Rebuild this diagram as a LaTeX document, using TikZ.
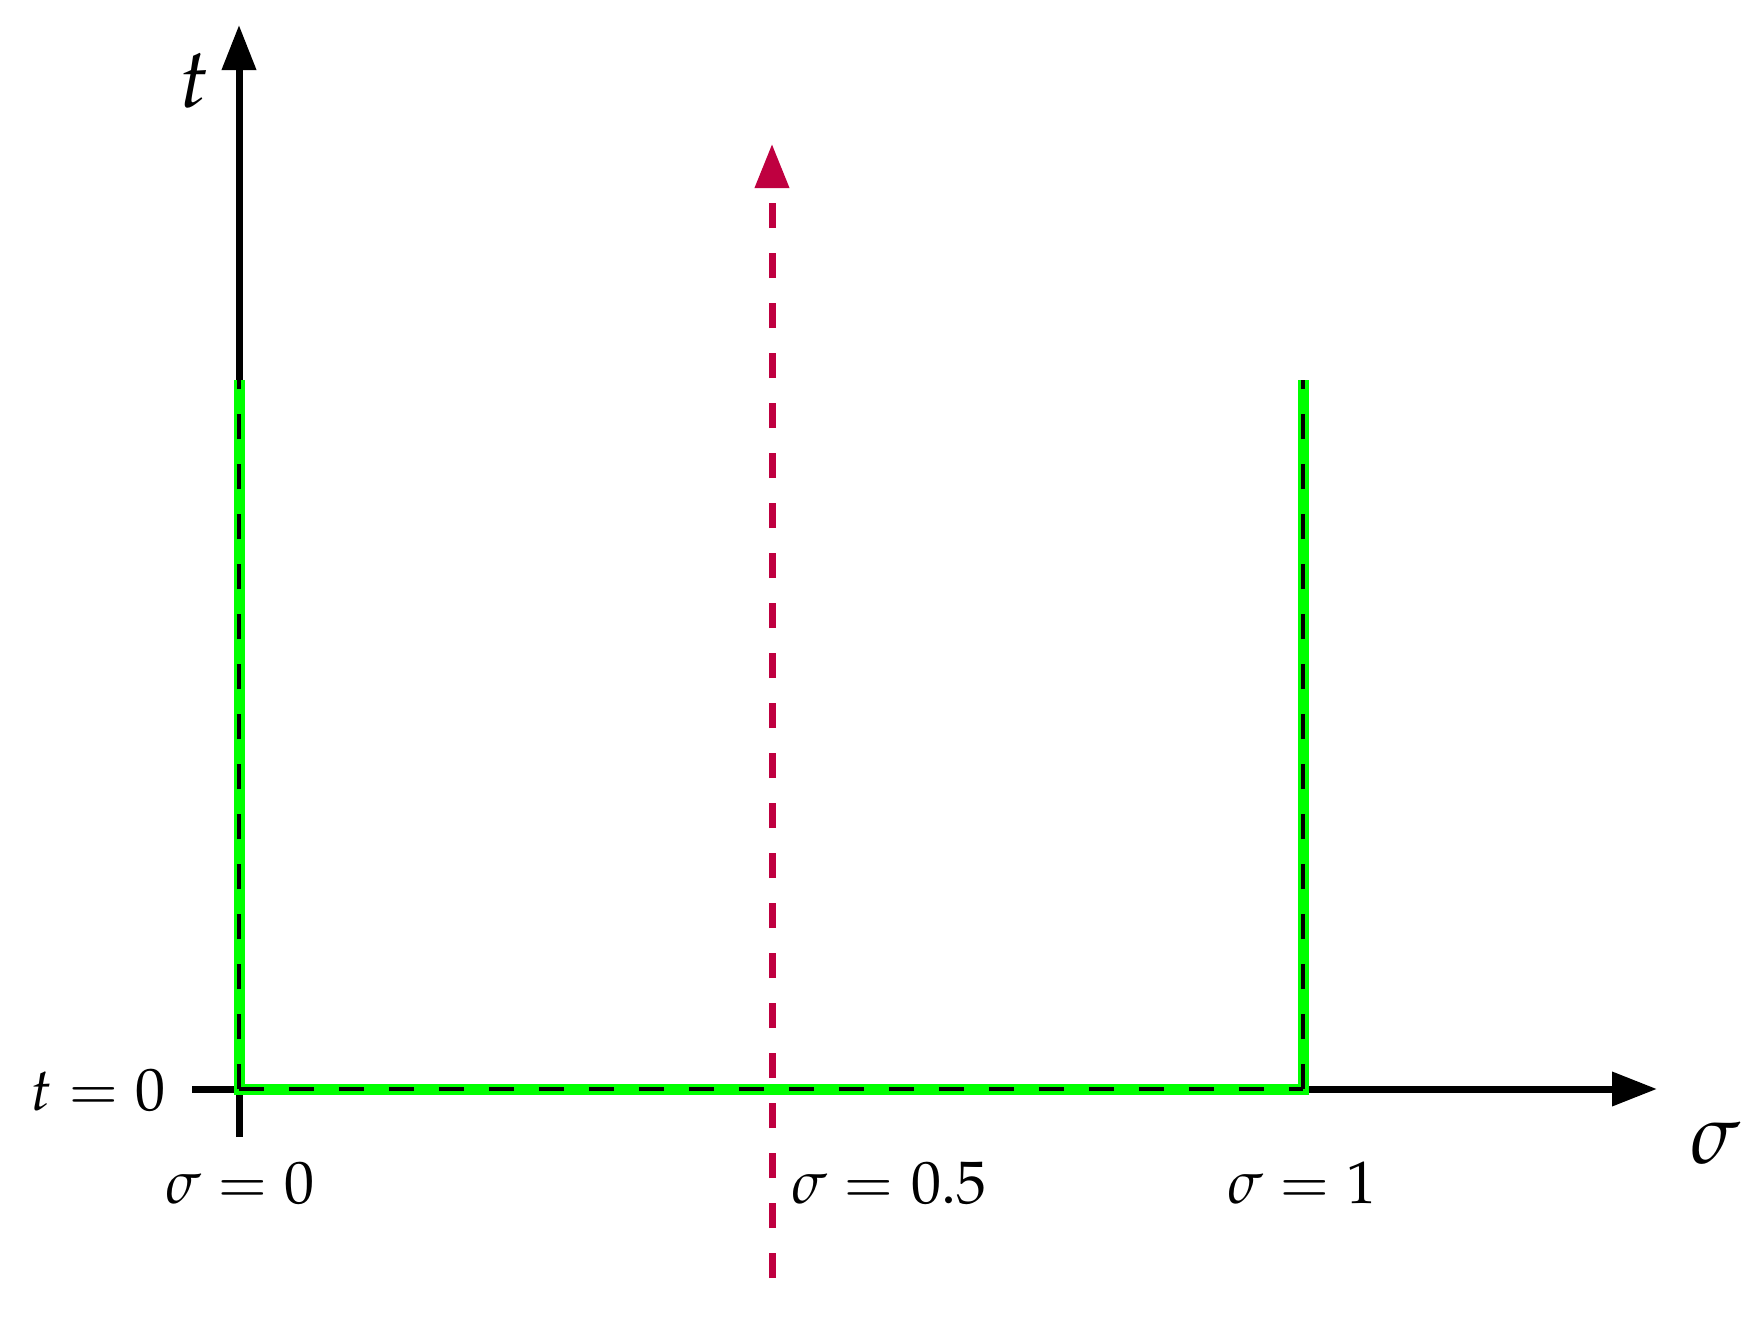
\documentclass[tikz,border=0pt]{standalone}
\usepackage{mathpazo}
\usetikzlibrary{arrows.meta}
\definecolor{redline}{RGB}{191,0,64}
\definecolor{greenline}{RGB}{0,255,0}
\tikzset{
  axis/.style={line width=1.75pt, black, -{Triangle[length=11.25pt,width=8.25pt]}},
  greenpath/.style={line width=2.75pt, greenline},
  blackdash/.style={line width=1pt, black, dash pattern=on 6.25pt off 6.25pt},
  reddash/.style={line width=1.75pt, redline, dash pattern=on 6.25pt off 6.25pt, -{Triangle[length=11pt,width=8.25pt]}},
  smalllbl/.style={font=\fontsize{15}{18}\selectfont, inner sep=0pt, anchor=base},
  biglbl/.style={font=\fontsize{21}{25}\selectfont, inner sep=0pt, anchor=base},
}
\begin{document}
\begin{tikzpicture}[x=0.25pt, y=-0.25pt]
\useasboundingbox (0,0) rectangle (1761,1317);
% axes
\coordinate (tbot) at (239,1137);
\coordinate (ttop) at (239,25);
\coordinate (sleft) at (192,1089);
\coordinate (sright) at (1657,1089);
\draw[axis] (tbot) -- (ttop);
\draw[axis] (sleft) -- (sright);
% red dashed
\coordinate (rbot) at (772,1278);
\coordinate (rtop) at (772,144);
\draw[reddash] (rbot) -- (rtop);
% green path
\coordinate (a) at (239,380);
\coordinate (b) at (239,1089);
\coordinate (c) at (1303,1089);
\coordinate (d) at (1303,380);
\draw[greenpath] (a) -- (b) -- (c) -- (d);
\draw[blackdash] (b) -- (a);
\draw[blackdash] (b) -- (c);
\draw[blackdash] (c) -- (d);
% labels
\node[biglbl] (tl) at (194,108) {$t$};
\node[biglbl] (sl) at (1715,1163) {$\sigma$};
\node[smalllbl] (t0) at (98,1110) {$t=0$};
\node[smalllbl] (s0) at (240,1203) {$\sigma=0$};
\node[smalllbl] (s05) at (889,1203) {$\sigma=0.5$};
\node[smalllbl] (s1) at (1302,1203) {$\sigma=1$};
\end{tikzpicture}
\end{document}
